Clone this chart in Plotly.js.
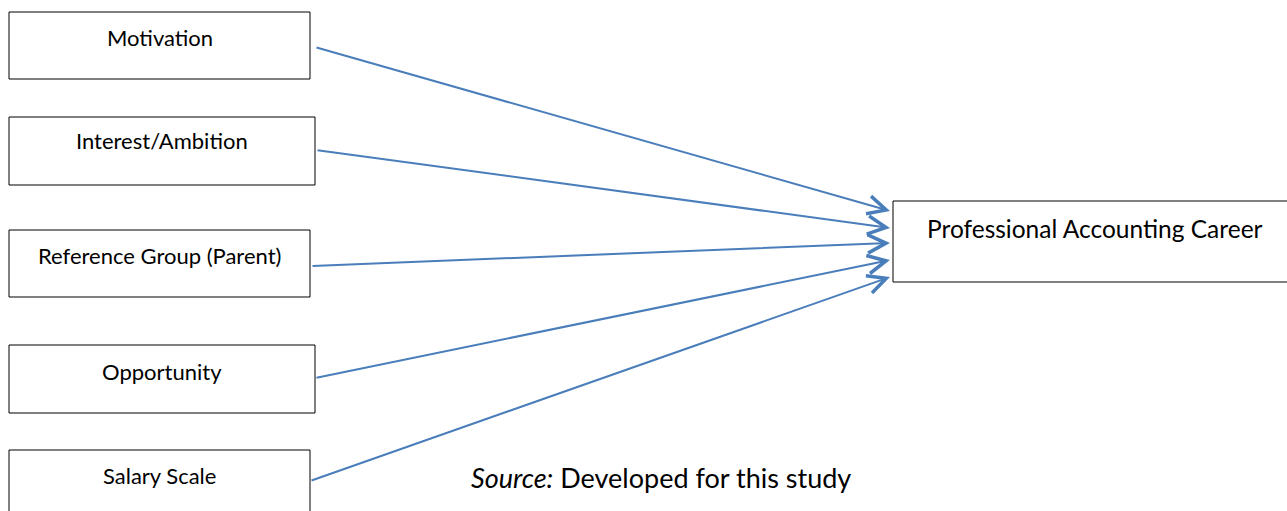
<!DOCTYPE html>
<html>
<head>
<meta charset="utf-8">
<script src="https://cdn.plot.ly/plotly-3.0.1.min.js"></script>
<style>html,body{margin:0;padding:0;background:#fff;}#chart{width:1287px;height:511px;}</style>
</head>
<body>
<div id="chart"></div>
<script>
// Data: factors (sources) and the outcome (target)
var factors = ["Motivation", "Interest/Ambition", "Reference Group (Parent)", "Opportunity", "Salary Scale"];
var outcome = "Professional Accounting Career";
var sourceNote = "<i>Source:</i> Developed for this study";

// Layout geometry (pixel-space diagram coordinates)
var boxX0 = [9, 9, 9, 9, 9];
var boxX1 = [310, 315, 310, 315, 310];
var boxY0 = [12, 117, 230, 345, 450];
var boxY1 = [79, 185, 297, 413, 516];
var labelY = [37, 140, 255, 371, 475];
var arrowStartX = [315, 316, 311, 315, 310];
var arrowStartY = [47, 150, 266, 378, 481];
var arrowEndY = [211, 228, 243, 260, 277];
var arrowEndX = 890;
var targetBox = {x0: 893, x1: 1290, y0: 201, y1: 282, labelX: 1095, labelY: 228};

var fontFam = "Lato, 'Open Sans', sans-serif";
var blue = "#4a7ebb";

var shapes = [];
var annotations = [];
for (var i = 0; i < factors.length; i++) {
  shapes.push({type: "rect", xref: "x", yref: "y", x0: boxX0[i], x1: boxX1[i], y0: boxY0[i], y1: boxY1[i],
    line: {color: "#000", width: 1}, fillcolor: "#fff", layer: "below"});
  annotations.push({x: (boxX0[i] + boxX1[i]) / 2, y: labelY[i], xref: "x", yref: "y", text: factors[i],
    showarrow: false, font: {family: fontFam, size: 22, color: "#000"}, xanchor: "center", yanchor: "middle"});
  annotations.push({x: arrowEndX, y: arrowEndY[i], ax: arrowStartX[i], ay: arrowStartY[i],
    xref: "x", yref: "y", axref: "x", ayref: "y", text: "", showarrow: true,
    arrowhead: 5, arrowsize: 1.8, arrowwidth: 2, arrowcolor: blue, standoff: 0});
}
shapes.push({type: "rect", xref: "x", yref: "y", x0: targetBox.x0, x1: targetBox.x1, y0: targetBox.y0, y1: targetBox.y1,
  line: {color: "#000", width: 1}, fillcolor: "#fff", layer: "below"});
annotations.push({x: targetBox.labelX, y: targetBox.labelY, xref: "x", yref: "y", text: outcome, showarrow: false,
  font: {family: fontFam, size: 24.5, color: "#000"}, xanchor: "center", yanchor: "middle"});
annotations.push({x: 661, y: 477, xref: "x", yref: "y", text: sourceNote, showarrow: false,
  font: {family: fontFam, size: 27, color: "#000"}, xanchor: "center", yanchor: "middle"});

var layout = {
  width: 1287, height: 511,
  margin: {l: 0, r: 0, t: 0, b: 0},
  paper_bgcolor: "#fff", plot_bgcolor: "#fff",
  xaxis: {range: [0, 1287], visible: false, fixedrange: true},
  yaxis: {range: [511, 0], visible: false, fixedrange: true},
  showlegend: false,
  shapes: shapes,
  annotations: annotations
};
Plotly.newPlot("chart", [], layout, {displayModeBar: false, staticPlot: true});
</script>
</body>
</html>
